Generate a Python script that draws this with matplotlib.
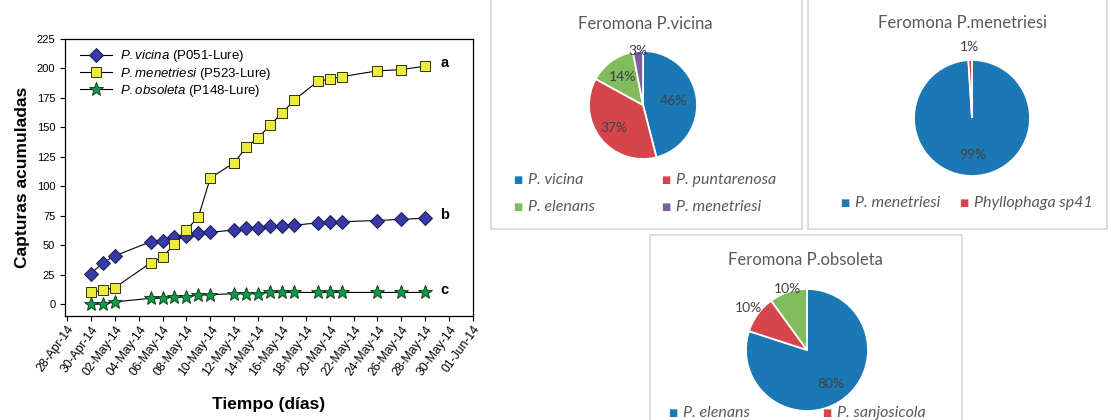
import numpy as np
import pandas as pd
import matplotlib
matplotlib.use("Agg")
import matplotlib.pyplot as plt
import matplotlib.dates as mdates
from matplotlib.patches import Rectangle

plt.rcParams['font.family'] = ['Liberation Sans', 'DejaVu Sans']
plt.rcParams['mathtext.fontset'] = 'custom'
plt.rcParams['mathtext.it'] = 'Liberation Sans:italic'
plt.rcParams['mathtext.rm'] = 'Liberation Sans'

# cumulative captures per trap date
fechas = pd.to_datetime([
    '2014-04-30', '2014-05-01', '2014-05-02', '2014-05-05', '2014-05-06',
    '2014-05-07', '2014-05-08', '2014-05-09', '2014-05-10', '2014-05-12',
    '2014-05-13', '2014-05-14', '2014-05-15', '2014-05-16', '2014-05-17',
    '2014-05-19', '2014-05-20', '2014-05-21', '2014-05-24', '2014-05-26',
    '2014-05-28'])
vicina = [26, 35, 41, 53, 54, 57, 58, 60, 61, 63, 65, 65, 66, 66, 67,
          69, 70, 70, 71, 72, 73]
menetriesi = [10, 12, 14, 35, 40, 51, 63, 74, 107, 120, 133, 141, 152, 162, 173,
              189, 191, 193, 198, 199, 202]
obsoleta = [0, 0, 2, 5, 5, 6, 6, 8, 8, 9, 9, 9, 10, 10, 10,
            10, 10, 10, 10, 10, 10]
letras = ['b', 'a', 'c']

# species composition of captures per pheromone
pie1_labels = ['P. vicina', 'P. puntarenosa', 'P. elenans', 'P. menetriesi']
pie1_vals = [46, 37, 14, 3]
pie2_labels = ['P. menetriesi', 'Phyllophaga sp41']
pie2_vals = [99, 1]
pie3_labels = ['P. elenans', 'P. sanjosicola', '']
pie3_vals = [80, 10, 10]

W, H = 1111, 420
fig = plt.figure(figsize=(W / 100, H / 100), dpi=100)


def fx(x):
    return x / W


def fy(y):
    return 1 - y / H


# ---- line chart ----
ax = fig.add_axes([fx(65), fy(316), fx(473) - fx(65), fy(39) - fy(316)])
ax.plot(fechas, vicina, color='black', lw=0.8, marker='D', ms=7,
        mfc='#363aa6', mec='#1a1a50', mew=0.7,
        label=r'$\it{P.vicina}$ (P051-Lure)')
ax.plot(fechas, menetriesi, color='black', lw=0.8, marker='s', ms=6.5,
        mfc='#ecec3c', mec='#333300', mew=0.7,
        label=r'$\it{P.menetriesi}$ (P523-Lure)')
ax.plot(fechas, obsoleta, color='black', lw=0.8, marker='*', ms=10,
        mfc='#0a9a4a', mec='#103010', mew=0.6,
        label=r'$\it{P.obsoleta}$ (P148-Lure)')

for serie, letra in zip([vicina, menetriesi, obsoleta], letras):
    ax.annotate(letra, (fechas[-1], serie[-1]), xytext=(11, 2),
                textcoords='offset points', fontsize=10.5, fontweight='bold',
                va='center', ha='left')

ax.set_xlim(pd.Timestamp('2014-04-27 20:00'), pd.Timestamp('2014-06-01'))
ax.set_ylim(-10, 225)
ax.set_yticks(np.arange(0, 226, 25))
ax.set_xticks(pd.date_range('2014-04-28', '2014-06-01', freq='2D'))
ax.xaxis.set_major_formatter(mdates.DateFormatter('%d-%b-%y'))
ax.tick_params(axis='both', direction='out', length=3.5, width=0.8)
ax.tick_params(axis='y', labelsize=8)
ax.tick_params(axis='x', labelsize=8.8, pad=2)
plt.setp(ax.get_xticklabels(), rotation=54, ha='right', rotation_mode='anchor')
for s in ax.spines.values():
    s.set_linewidth(0.9)
ax.set_ylabel('Capturas acumuladas', fontsize=12.5, fontweight='bold', labelpad=5)
ax.set_xlabel('Tiempo (días)', fontsize=12.5, fontweight='bold', labelpad=14)
ax.legend(loc='upper left', frameon=False, fontsize=9.5, handlelength=2.4,
          handletextpad=0.6, borderaxespad=0.0, labelspacing=0.1,
          bbox_to_anchor=(0.025, 0.985))

# ---- pie panels ----
azul, rojo, verde, morado = '#1b78b4', '#d6444c', '#80bb5c', '#7d5ea3'
gris = '#595959'
pie_font = ['Lato', 'DejaVu Sans']

for x0, y0, x1, y1 in [(491, -3, 802, 229), (808, -3, 1107, 229), (650, 235, 962, 425)]:
    fig.add_artist(Rectangle((fx(x0), fy(y1)), fx(x1) - fx(x0), fy(y0) - fy(y1),
                             transform=fig.transFigure, facecolor='white',
                             edgecolor='#d9d9d9', lw=1.3, zorder=-1))


def pie_panel(cx, cy, r, vals, colors, dists, title, tx, ty):
    pax = fig.add_axes([fx(cx - r), fy(cy + r), fx(2 * r), 2 * r / H])
    wedges, _ = pax.pie(vals, colors=colors, startangle=90, counterclock=False,
                        radius=1, wedgeprops=dict(edgecolor='white', linewidth=1.3))
    for w, v, d in zip(wedges, vals, dists):
        ang = np.deg2rad((w.theta1 + w.theta2) / 2)
        pax.text(d * np.cos(ang), d * np.sin(ang), f'{v}%', ha='center', va='center',
                 fontsize=10, color='#404040', family=pie_font)
    pax.set_xlim(-1, 1)
    pax.set_ylim(-1, 1)
    pax.axis('off')
    fig.text(fx(tx), fy(ty), title, ha='center', va='center', fontsize=12,
             color=gris, family=pie_font)


def pie_legend(items):
    for x, y, label, color in items:
        fig.text(fx(x), fy(y), '■', ha='center', va='center', fontsize=7,
                 color=color, family=['DejaVu Sans'])
        fig.text(fx(x + 10), fy(y), label, ha='left', va='center', fontsize=11.5,
                 style='italic', color=gris, family=pie_font)


pie_panel(643, 105, 54, pie1_vals, [azul, rojo, verde, morado],
          [0.57, 0.69, 0.65, 1.0], 'Feromona P.vicina', 645, 24)
pie_legend([(518, 180, pie1_labels[0], azul), (666, 180, pie1_labels[1], rojo),
            (518, 207, pie1_labels[2], verde), (666, 207, pie1_labels[3], morado)])

pie_panel(972, 118, 58, pie2_vals, [azul, rojo], [0.63, 1.22],
          'Feromona P.menetriesi', 963, 23)
pie_legend([(845, 203, pie2_labels[0], azul), (964, 203, pie2_labels[1], rojo)])

pie_panel(807, 350, 61, pie3_vals, [azul, rojo, verde], [0.68, 1.18, 1.05],
          'Feromona P.obsoleta', 805, 260)
pie_legend([(673, 413, pie3_labels[0], azul), (827, 413, pie3_labels[1], rojo)])

fig.savefig('out.png', dpi=100)
